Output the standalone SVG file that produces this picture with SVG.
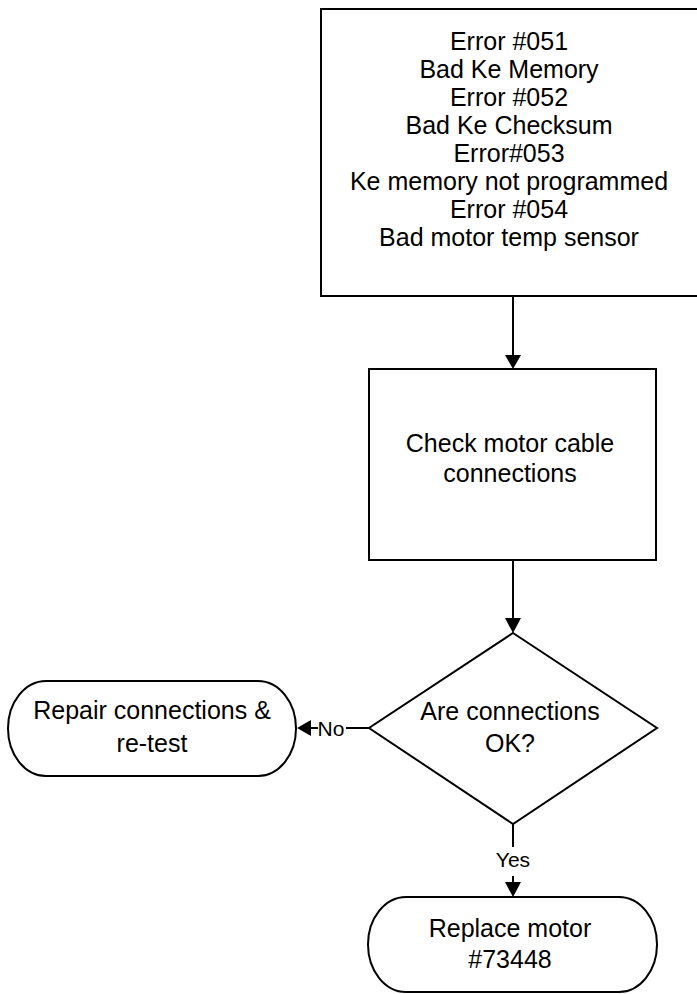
<svg xmlns="http://www.w3.org/2000/svg" width="697" height="994" viewBox="0 0 697 994">
<style>
.s{fill:#fff;stroke:#000;stroke-width:2}
.t{font-family:"Liberation Sans",Arial,sans-serif;font-size:25px;fill:#000;text-anchor:middle}
.l{font-family:"Liberation Sans",Arial,sans-serif;font-size:21px;fill:#000;text-anchor:middle}
.c{stroke:#000;stroke-width:2;fill:none}
.a{fill:#000;stroke:none}
</style>
<rect width="697" height="994" fill="#fff"/>
<g id="connectors">
<line class="c" x1="513" y1="296" x2="513" y2="356"/>
<polygon class="a" points="505,355 521,355 513,369"/>
<line class="c" x1="513" y1="560" x2="513" y2="619"/>
<polygon class="a" points="505,618 521,618 513,633"/>
<line class="c" x1="369" y1="728" x2="346" y2="728"/>
<text class="l" x="331" y="736">No</text>
<line class="c" x1="318" y1="728" x2="310" y2="728"/>
<polygon class="a" points="311,720 311,736 297,728"/>
<line class="c" x1="513" y1="824" x2="513" y2="847"/>
<text class="l" x="513" y="867">Yes</text>
<line class="c" x1="513" y1="876" x2="513" y2="883"/>
<polygon class="a" points="505,882 521,882 513,897"/>
</g>
<g id="errors">
<rect class="s" x="321" y="9" width="380" height="287"/>
<text class="t" x="509" y="50">Error #051</text>
<text class="t" x="509" y="78">Bad Ke Memory</text>
<text class="t" x="509" y="106">Error #052</text>
<text class="t" x="509" y="134">Bad Ke Checksum</text>
<text class="t" x="509" y="162">Error#053</text>
<text class="t" x="509" y="190">Ke memory not programmed</text>
<text class="t" x="509" y="218">Error #054</text>
<text class="t" x="509" y="246">Bad motor temp sensor</text>
</g>
<g id="check">
<rect class="s" x="369" y="369" width="287" height="191"/>
<text class="t" x="510" y="452">Check motor cable</text>
<text class="t" x="510" y="482">connections</text>
</g>
<g id="decision">
<polygon class="s" points="513,633 657,728 513,824 369,728"/>
<text class="t" x="510" y="720">Are connections</text>
<text class="t" x="510" y="752">OK?</text>
</g>
<g id="repair">
<path class="s" d="M46 681 H258 A38 47.5 0 0 1 258 776 H46 A38 47.5 0 0 1 46 681 Z"/>
<text class="t" x="152" y="719">Repair connections &amp;</text>
<text class="t" x="152" y="752">re-test</text>
</g>
<g id="replace">
<path class="s" d="M406 897 H619 A38 47.5 0 0 1 619 992 H406 A38 47.5 0 0 1 406 897 Z"/>
<text class="t" x="510" y="937">Replace motor</text>
<text class="t" x="510" y="968">#73448</text>
</g>
</svg>
